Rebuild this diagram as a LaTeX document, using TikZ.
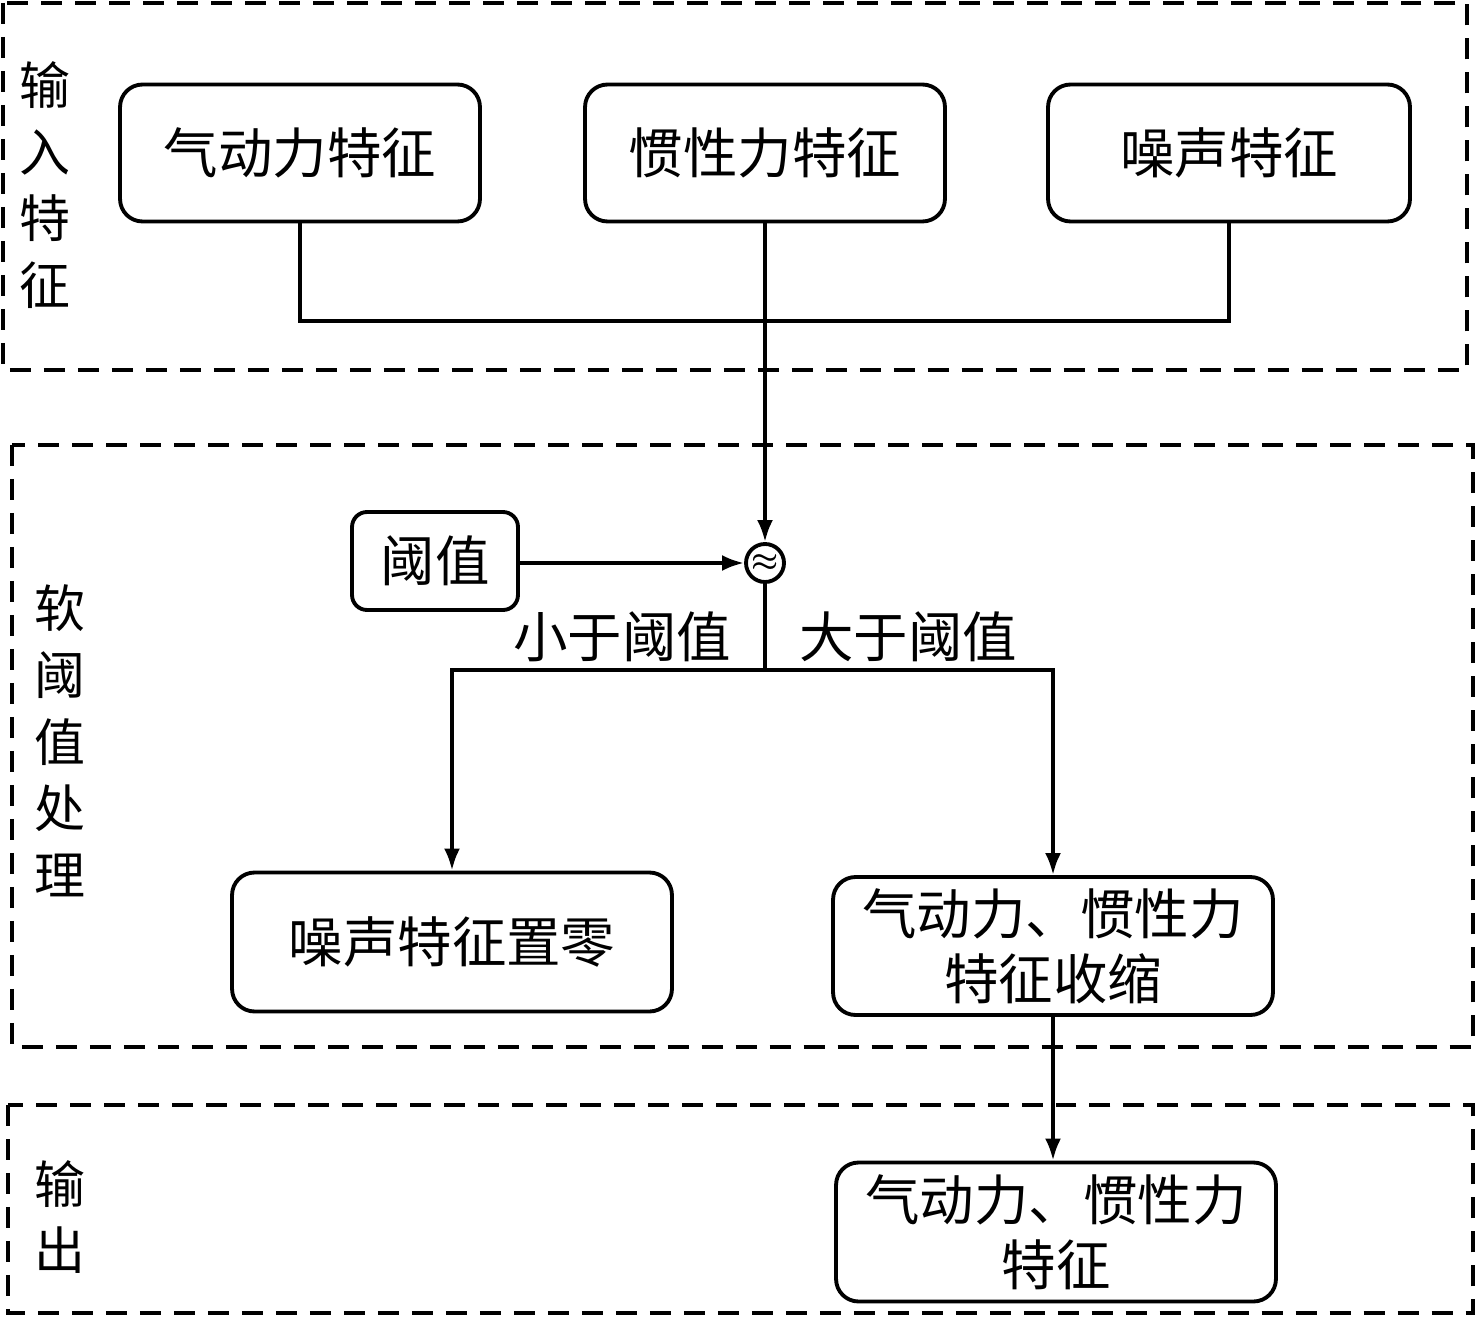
\documentclass[tikz,border=0pt]{standalone}
\usepackage{amsmath}
\usepackage{bm}
\usepackage{fontspec}
\setmainfont{Noto Sans CJK SC}
\usetikzlibrary{arrows.meta}
\tikzset{
  >={Latex[length=4.4mm,width=3.2mm]},
}
\tikzstyle{line}=[line width=2.2pt]
\tikzstyle{box}=[line,draw,rounded corners=0.45cm,align=center,font=\fontsize{31}{37}\selectfont]
\tikzstyle{frame}=[line width=2.2pt,dash pattern=on 0.42cm off 0.26cm]
\tikzstyle{side}=[align=center,font=\fontsize{29}{38}\selectfont]
\tikzstyle{every node}=[inner sep=0pt]

\begin{document}
\begin{tikzpicture}[x=0.02cm,y=-0.02cm]
    \useasboundingbox (0,0) rectangle (1476,1317);
    % dashed frames
    \draw[frame] (3,3) rectangle (1467,370);
    \draw[frame] (12,445) rectangle (1473,1047);
    \draw[frame] (8,1105) rectangle (1473,1313);
    \node[side] (lin) at (45,185) {输\\入\\特\\征};
    \node[side] (lsoft) at (60,741) {软\\阈\\值\\处\\理};
    \node[side] (lout) at (60,1217) {输\\出};
    % input features
    \node[box,minimum width=7.2cm,minimum height=2.74cm] (aero) at (300,153) {气动力特征};
    \node[box,minimum width=7.2cm,minimum height=2.74cm] (inert) at (765,153) {惯性力特征};
    \node[box,minimum width=7.24cm,minimum height=2.74cm] (noise) at (1229,153) {噪声特征};
    \coordinate (join) at (765,321);
    \draw[line] (aero) |- (join) -| (noise);
    % threshold
    \node[line,draw,circle,minimum size=0.76cm,font=\fontsize{17}{17}\selectfont] (cmp) at (765,563) {$\bm{\approx}$};
    \node[box,rounded corners=0.3cm,minimum width=3.32cm,minimum height=1.96cm] (thr) at (435,561) {阈值};
    \draw[line,->] (inert) -- (cmp);
    \draw[line,->] (thr.east|-cmp) -- (cmp);
    \coordinate (split) at (765,670);
    \draw[line] (cmp) -- (split);
    \node[font=\fontsize{31}{37}\selectfont] (less) at (622,637) {小于阈值};
    \node[font=\fontsize{31}{37}\selectfont] (more) at (908,637) {大于阈值};
    % results
    \node[box,minimum width=8.8cm,minimum height=2.78cm] (zero) at (452,942) {噪声特征置零};
    \node[box,minimum width=8.8cm,minimum height=2.76cm] (shrink) at (1053,946) {气动力、惯性力\\特征收缩};
    \draw[line,->] (split) -| (zero);
    \draw[line,->] (split) -| (shrink);
    % output
    \node[box,minimum width=8.8cm,minimum height=2.78cm] (out) at (1056,1232) {气动力、惯性力\\特征};
    \draw[line,->] (shrink) -- (shrink|-out.north);
\end{tikzpicture}
\end{document}
